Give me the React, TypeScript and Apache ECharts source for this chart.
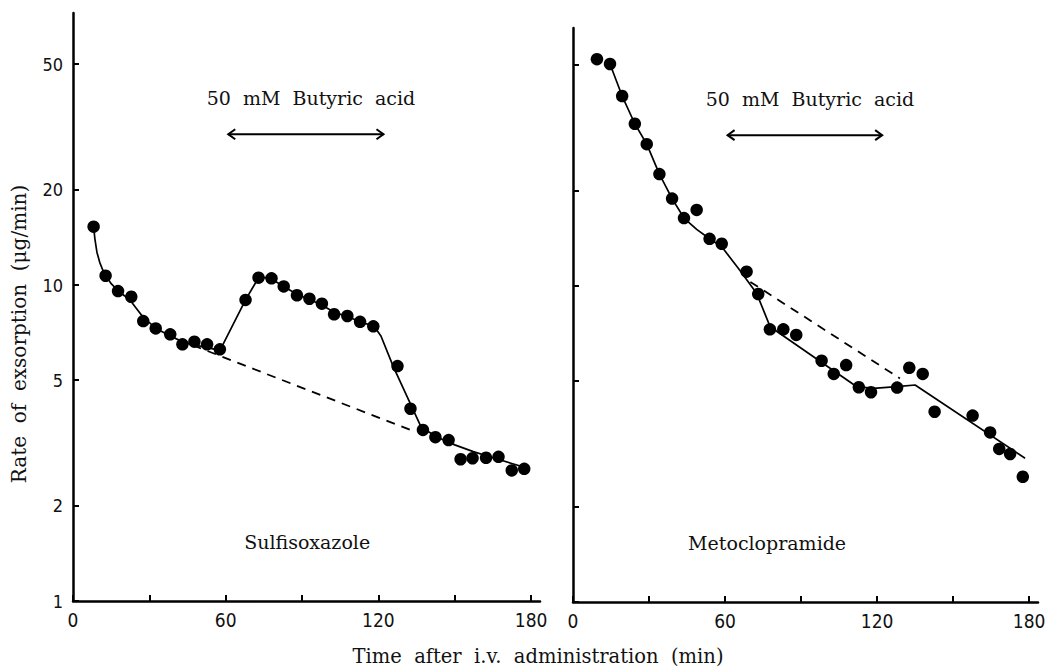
import React, { useEffect, useRef } from "react";
import * as echarts from "echarts";

// ---- Data ----
// Left panel: Sulfisoxazole
const sulfTime = [8.1, 12.8, 17.7, 22.9, 27.6, 32.5, 38.2, 43, 47.7, 52.7, 57.7, 67.8, 72.9, 78, 82.8, 88, 92.9, 97.8, 102.6, 107.8, 112.8, 118, 127.5, 132.6, 137.5, 142.4, 147.6, 152.3, 157, 162.3, 167.2, 172.4, 177.3];
const sulfRate = [15.3, 10.7, 9.57, 9.18, 7.69, 7.29, 6.98, 6.49, 6.62, 6.49, 6.26, 8.97, 10.55, 10.5, 9.9, 9.28, 9.05, 8.73, 8.08, 7.98, 7.65, 7.4, 5.54, 4.06, 3.48, 3.3, 3.23, 2.81, 2.83, 2.84, 2.86, 2.59, 2.62];
const sulfFitTime = [8.1, 8.6, 9.4, 10.5, 11.6, 12.8, 15, 17.7, 20.2, 22.9, 25.3, 27.6, 32.5, 38.2, 43, 47.7, 52.7, 57.7, 67.8, 72.9, 75.5, 78, 82.8, 88, 92.9, 97.8, 102.6, 107.8, 112.8, 118.3, 121, 125.9, 132.5, 136.4, 140, 144.3, 150, 157.3, 165, 178];
const sulfFitRate = [15.3, 14.0, 12.7, 11.8, 11.2, 10.75, 10.1, 9.6, 9.25, 8.85, 8.35, 7.9, 7.3, 6.9, 6.62, 6.45, 6.35, 6.2, 8.97, 10.55, 10.55, 10.45, 9.9, 9.35, 9.0, 8.65, 8.2, 7.95, 7.65, 7.4, 6.9, 5.51, 4.22, 3.61, 3.42, 3.27, 3.12, 2.97, 2.84, 2.64];
const sulfBaseTime = [47, 134.5];
const sulfBaseRate = [6.45, 3.43];

// Right panel: Metoclopramide
const metoTime = [9.45, 14.6, 19.4, 24.4, 29.1, 34.1, 39.1, 43.8, 48.8, 53.9, 58.7, 68.5, 73.1, 77.7, 83, 88.1, 98.1, 102.9, 107.8, 112.8, 117.6, 127.9, 132.7, 138, 142.7, 157.7, 164.6, 168.2, 172.5, 177.5];
const metoRate = [52.2, 50.4, 39.9, 32.6, 28.1, 22.6, 18.9, 16.4, 17.4, 14.1, 13.6, 11.1, 9.43, 7.29, 7.29, 7.0, 5.8, 5.27, 5.62, 4.78, 4.61, 4.77, 5.51, 5.27, 4.0, 3.89, 3.44, 3.05, 2.94, 2.49];
const metoFitTime = [14.6, 19.4, 24.4, 29.1, 34.1, 39.1, 43.8, 48.8, 53.9, 58.7, 65.9, 72.5, 77.8, 112, 118.6, 127.8, 135, 178.4];
const metoFitRate = [50.4, 39.9, 32.6, 28.1, 22.6, 18.9, 16.4, 15.1, 14.1, 13.3, 11.2, 9.46, 7.43, 4.8, 4.74, 4.8, 4.86, 2.85];
const metoBaseTime = [70, 129];
const metoBaseRate = [10.3, 5.1];

// Axes
const xTicks = [0, 30, 60, 90, 120, 150, 180];
const xTickLabels = [0, 60, 120, 180];
const yTicks = [1, 2, 5, 10, 20, 50];
const xMax = 183.5;
const yTopLeft = 72.6;
const yTopRight = 65.5;

// Annotations
const acidLabel = "50  mM  Butyric  acid";
const acidStart = 61;
const acidEnd = 122;
const arrowLevel = 30;
const acidLabelLevel = 39;
const acidLabelTime = 93.5;
const drugNames = ["Sulfisoxazole", "Metoclopramide"];
const drugLabelTimes = [92, 76.6];
const drugLabelLevel = 1.54;
const yTitle = "Rate  of  exsorption  (μg/min)";
const xTitle = "Time  after  i.v.  administration  (min)";

const LOG = (v: number) => Math.log10(v);
const SERIF = "'DejaVu Serif', 'Liberation Serif', serif";
const TICKFONT = "'Liberation Sans Narrow', 'DejaVu Sans Condensed', 'Liberation Sans', sans-serif";

function pairs(t: number[], v: number[]) {
  return t.map((x, i) => [x, LOG(v[i])]);
}

export default function App() {
  const ref = useRef<HTMLDivElement>(null);
  useEffect(() => {
    if (!ref.current) return;
    const chart = echarts.init(ref.current, undefined, { renderer: "svg" });

    const xAxisFor = (i: number) => ({
      type: "value",
      gridIndex: i,
      min: 0,
      max: xMax,
      axisLine: { show: true, lineStyle: { color: "#000", width: 2.5 } },
      axisTick: { show: true, inside: true, length: 6, customValues: xTicks, lineStyle: { color: "#000", width: 2 } },
      axisLabel: { customValues: xTickLabels, fontFamily: TICKFONT, fontSize: 19, color: "#111", margin: 9 },
      splitLine: { show: false },
    });
    const yAxisFor = (i: number, top: number) => ({
      type: "value",
      gridIndex: i,
      min: 0,
      max: LOG(top),
      axisLine: { show: true, lineStyle: { color: "#000", width: 2.5 } },
      axisTick: { show: true, inside: true, length: 6, customValues: yTicks.map(LOG), lineStyle: { color: "#000", width: 2 } },
      axisLabel: {
        show: i === 0,
        customValues: yTicks.map(LOG),
        formatter: (v: number) => String(Math.round(Math.pow(10, v))),
        fontFamily: TICKFONT,
        fontSize: 18,
        color: "#111",
        margin: 10,
      },
      splitLine: { show: false },
    });

    const panelSeries = (i: number, t: number[], v: number[], ft: number[], fv: number[], bt: number[], bv: number[]) => [
      {
        type: "line",
        xAxisIndex: i,
        yAxisIndex: i,
        data: pairs(ft, fv),
        showSymbol: false,
        symbol: "none",
        smooth: false,
        lineStyle: { color: "#000", width: 1.7 },
        z: 2,
      },
      {
        type: "line",
        xAxisIndex: i,
        yAxisIndex: i,
        data: pairs(bt, bv),
        showSymbol: false,
        symbol: "none",
        lineStyle: { color: "#000", width: 1.8, type: [9, 7] },
        z: 2,
      },
      {
        type: "scatter",
        xAxisIndex: i,
        yAxisIndex: i,
        data: pairs(t, v),
        symbol: "circle",
        symbolSize: 12.5,
        itemStyle: { color: "#000", opacity: 1 },
        z: 3,
      },
    ];

    chart.setOption({
      animation: false,
      backgroundColor: "#fff",
      grid: [
        { left: 73, top: 13, width: 467, height: 588 },
        { left: 573, top: 28, width: 465, height: 574 },
      ],
      xAxis: [xAxisFor(0), xAxisFor(1)],
      yAxis: [yAxisFor(0, yTopLeft), yAxisFor(1, yTopRight)],
      series: [
        ...panelSeries(0, sulfTime, sulfRate, sulfFitTime, sulfFitRate, sulfBaseTime, sulfBaseRate),
        ...panelSeries(1, metoTime, metoRate, metoFitTime, metoFitRate, metoBaseTime, metoBaseRate),
      ],
    });

    const graphics: any[] = [];
    for (let i = 0; i < 2; i++) {
      const p0 = chart.convertToPixel({ gridIndex: i } as any, [acidStart, LOG(arrowLevel)]) as number[];
      const p1 = chart.convertToPixel({ gridIndex: i } as any, [acidEnd, LOG(arrowLevel)]) as number[];
      const pl = chart.convertToPixel({ gridIndex: i } as any, [acidLabelTime, LOG(acidLabelLevel)]) as number[];
      const pd = chart.convertToPixel({ gridIndex: i } as any, [drugLabelTimes[i], LOG(drugLabelLevel)]) as number[];
      const ah = 7;
      const aw = 5;
      graphics.push(
        { type: "line", shape: { x1: p0[0], y1: p0[1], x2: p1[0], y2: p1[1] }, style: { stroke: "#000", lineWidth: 2 } },
        { type: "polyline", shape: { points: [[p0[0] + ah, p0[1] - aw], [p0[0], p0[1]], [p0[0] + ah, p0[1] + aw]] }, style: { stroke: "#000", lineWidth: 2, fill: null } },
        { type: "polyline", shape: { points: [[p1[0] - ah, p1[1] - aw], [p1[0], p1[1]], [p1[0] - ah, p1[1] + aw]] }, style: { stroke: "#000", lineWidth: 2, fill: null } },
        { type: "text", x: pl[0], y: pl[1], style: { text: acidLabel, fontFamily: SERIF, fontSize: 19, fill: "#111", align: "center", verticalAlign: "middle" } },
        { type: "text", x: pd[0], y: pd[1], style: { text: drugNames[i], fontFamily: SERIF, fontSize: 19, fill: "#111", align: "center", verticalAlign: "middle" } }
      );
    }
    graphics.push(
      {
        type: "text",
        x: 538,
        y: 656,
        style: { text: xTitle, fontFamily: SERIF, fontSize: 19.5, fill: "#111", align: "center", verticalAlign: "middle" },
      },
      {
        type: "text",
        x: 19,
        y: 334,
        rotation: Math.PI / 2,
        style: { text: yTitle, fontFamily: SERIF, fontSize: 20, fill: "#111", align: "center", verticalAlign: "middle" },
      }
    );
    chart.setOption({ graphic: graphics });

    return () => chart.dispose();
  }, []);

  return <div ref={ref} style={{ position: "absolute", left: 0, top: 0, width: 1053, height: 671 }} />;
}
